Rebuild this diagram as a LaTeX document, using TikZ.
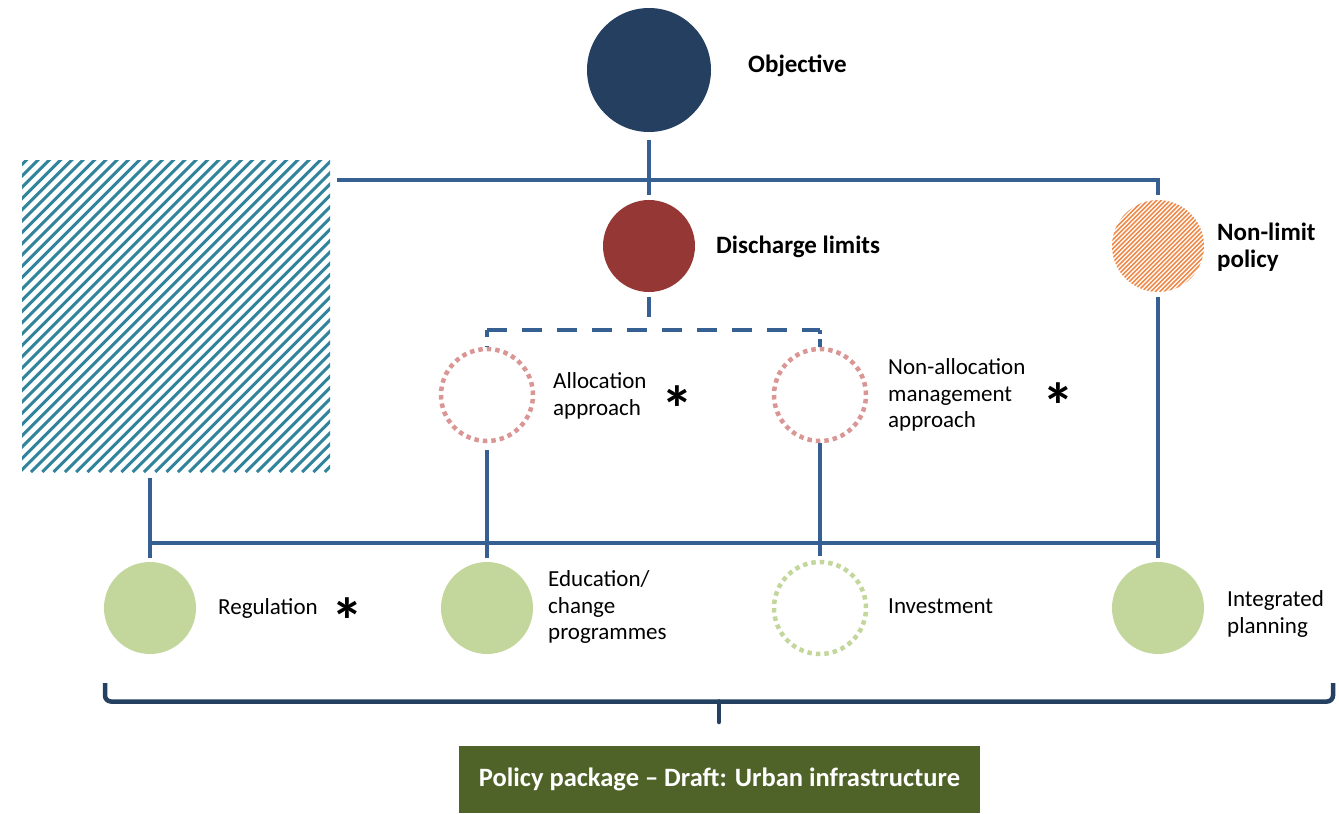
\documentclass[tikz,border=0pt]{standalone}
\usepackage{fontspec}
\setmainfont{Carlito}
\definecolor{navy}{HTML}{243F60}
\definecolor{connblue}{HTML}{376092}
\definecolor{dred}{HTML}{953735}
\definecolor{hatchteal}{HTML}{31849B}
\definecolor{hatchorange}{HTML}{EE8A4A}
\definecolor{dotpink}{HTML}{D99694}
\definecolor{lgreen}{HTML}{C3D69B}
\definecolor{pkgolive}{HTML}{4F6228}
\definecolor{bracecol}{HTML}{254061}
\tikzset{
  conn/.style={draw=connblue, line width=4pt},
  dashconn/.style={draw=connblue, line width=4pt, dash pattern=on 20pt off 15pt},
  bigc/.style={circle, inner sep=0pt, minimum size=124pt},
  midc/.style={circle, inner sep=0pt, minimum size=92pt},
  dotc/.style={circle, inner sep=0pt, minimum size=92pt, line width=4.5pt, dash pattern=on 4.5pt off 4pt},
  lbl/.style={anchor=west, align=left, inner sep=0pt, font=\fontsize{23}{26.5}\selectfont},
  blbl/.style={anchor=west, align=left, inner sep=0pt, font=\fontsize{25}{27}\selectfont\bfseries},
  star/.style={anchor=base, inner sep=0pt, font=\fontsize{64}{64}\selectfont\bfseries},
}
\begin{document}
\begin{tikzpicture}[x=1pt, y=-1pt]
\useasboundingbox (0,0) rectangle (1339,814);

% top nodes
\node[bigc, fill=navy] (obj) at (649,70) {};
\node[blbl] (objl) at (748,66) {Objective};
\node[midc, fill=dred] (dis) at (649,246) {};
\node[blbl] (disl) at (716,247) {Discharge limits};
\node[midc, path picture={
  \foreach \i in {0,...,46}
    \draw[hatchorange, line width=1.6pt] ([xshift=\i*4.5pt-110pt]path picture bounding box.south west) -- ++(130pt,130pt);
}] (nl) at (1158,246) {};
\node[blbl] (nll) at (1217,247) {Non-limit\\policy};

% hatched rectangle
\node[rectangle, inner sep=0pt, minimum width=308pt, minimum height=312pt, path picture={
  \foreach \i in {0,...,58}
    \draw[hatchteal, line width=3pt] ([xshift=\i*11.3pt-330pt]path picture bounding box.south west) -- ++(340pt,340pt);
}] (hatch) at (176,316) {};

% middle dotted circles
\node[dotc, draw=dotpink] (alloc) at (487,395) {};
\node[lbl] (allocl) at (553,396) {Allocation\\approach};
\node[star] (s1) at (677,431) {*};
\node[dotc, draw=dotpink] (nalloc) at (820,395) {};
\node[lbl] (nallocl) at (888,395) {Non-allocation\\management\\approach};
\node[star] (s2) at (1058,428) {*};

% bottom circles
\node[midc, fill=lgreen] (reg) at (150,608) {};
\node[lbl] (regl) at (218,608) {Regulation};
\node[star] (s3) at (347,643) {*};
\node[midc, fill=lgreen] (edu) at (487,608) {};
\node[lbl] (edul) at (548,607) {Education/\\change\\programmes};
\node[dotc, draw=lgreen] (inv) at (820,608) {};
\node[lbl] (invl) at (888,606) {Investment};
\node[midc, fill=lgreen] (ip) at (1158,608) {};
\node[lbl] (ipl) at (1227,614) {Integrated\\planning};

% connectors
\coordinate (ht) at (0,180);
\coordinate (hb) at (0,543);
\coordinate (hd) at (0,330);
\coordinate (tl) at (337,180);
\draw[conn, shorten <=8pt, shorten >=5pt] (obj) -- (dis);
\draw[conn] (tl) -- (nl |- ht) -- ([yshift=5pt]nl.north);
\draw[conn, shorten <=5pt, shorten >=4pt] (nl) -- (ip);
\draw[conn, shorten <=6pt, shorten >=4pt] (hatch.south -| reg.north) -- (reg);
\draw[conn, shorten <=7pt, shorten >=4pt] (alloc) -- (edu);
\draw[conn, shorten <=0pt, shorten >=4pt] (nalloc) -- (inv);
\draw[conn] ([xshift=-2pt]reg |- hb) -- ([xshift=2pt]ip |- hb);
\draw[dashconn, shorten <=5pt] (dis) -- (dis |- hd);
\draw[dashconn] (alloc |- hd) -- (nalloc |- hd);
\draw[dashconn, dash pattern=on 7pt off 9pt on 5pt off 20pt] (alloc |- hd) -- (alloc.north);
\draw[dashconn, dash pattern=on 4pt off 5pt on 12pt off 20pt] (nalloc |- hd) -- (nalloc.north);

% brace
\coordinate (bl) at (105,683);
\coordinate (br) at (1333,683);
\coordinate (bm) at (719,701.5);
\coordinate (btip) at (719,722);
\draw[bracecol, line width=4.5pt, rounded corners=6pt] (bl) -- (bl |- bm) -- (br |- bm) -- (br);
\draw[bracecol, line width=4.5pt, line cap=round] (bm) -- (btip);

% policy box
\node[fill=pkgolive, text=white, minimum width=521pt, minimum height=67pt, inner sep=0pt,
      font=\fontsize{26.5}{28}\selectfont\bfseries] (pkg) at (719.5,779.5) {Policy package -- Draft: Urban infrastructure};
\end{tikzpicture}
\end{document}
